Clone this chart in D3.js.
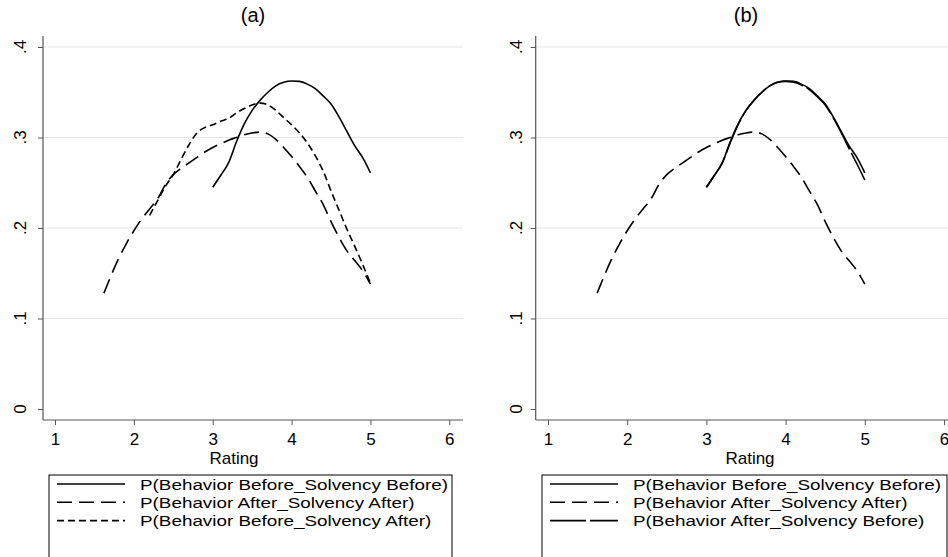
<!DOCTYPE html>
<html><head><meta charset="utf-8">
<script src="https://cdn.jsdelivr.net/npm/d3@7"></script>
<style>body{margin:0;background:#fff;overflow:hidden} text{font-family:"Liberation Sans",Arial,sans-serif;fill:#000}</style>
</head><body><svg id="c" width="948" height="557"></svg>
<script>
const xTicks=[1,2,3,4,5,6];
const yTicks=[0,0.1,0.2,0.3,0.4];
const yTickLabels=["0",".1",".2",".3",".4"];
const panelTitles=["(a)","(b)"];
const xAxisTitle="Rating";

// P(Behavior Before_Solvency Before)
const ratingBB=[3.0,3.1,3.2,3.3,3.4,3.5,3.6,3.7,3.8,3.9,4.0,4.1,4.2,4.3,4.4,4.5,4.6,4.7,4.8,4.9,5.0];
const pBB=[0.245,0.258,0.272,0.295,0.315,0.330,0.341,0.350,0.357,0.361,0.3625,0.362,0.359,0.354,0.346,0.337,0.323,0.307,0.291,0.278,0.261];
// P(Behavior After_Solvency After)
const ratingAA=[1.62,1.7,1.8,1.9,2.0,2.1,2.2,2.3,2.4,2.5,2.6,2.7,2.8,2.9,3.0,3.1,3.2,3.3,3.4,3.5,3.6,3.7,3.8,3.9,4.0,4.1,4.2,4.3,4.4,4.5,4.6,4.7,4.8,4.9,5.0];
const pAA=[0.128,0.145,0.165,0.182,0.197,0.210,0.221,0.232,0.248,0.259,0.266,0.272,0.278,0.284,0.289,0.293,0.297,0.300,0.303,0.305,0.306,0.304,0.298,0.289,0.279,0.268,0.256,0.241,0.226,0.207,0.190,0.175,0.164,0.153,0.138];
// P(Behavior Before_Solvency After)
const ratingBA=[2.2,2.3,2.4,2.5,2.6,2.7,2.8,2.9,3.0,3.1,3.2,3.3,3.4,3.5,3.6,3.7,3.8,3.9,4.0,4.1,4.2,4.3,4.4,4.5,4.6,4.7,4.8,4.9,5.0];
const pBA=[0.214,0.230,0.246,0.259,0.276,0.292,0.305,0.311,0.314,0.318,0.321,0.327,0.332,0.336,0.338,0.336,0.330,0.322,0.314,0.305,0.294,0.280,0.263,0.241,0.220,0.199,0.180,0.160,0.139];
// P(Behavior After_Solvency Before)
const ratingAB=[3.0,3.1,3.2,3.3,3.4,3.5,3.6,3.7,3.8,3.9,4.0,4.1,4.2,4.3,4.4,4.5,4.6,4.7,4.8,4.9,5.0];
const pAB=[0.245,0.258,0.272,0.294,0.314,0.330,0.341,0.350,0.357,0.361,0.362,0.361,0.358,0.353,0.345,0.336,0.322,0.306,0.288,0.271,0.253];

const legendA=["P(Behavior Before_Solvency Before)","P(Behavior After_Solvency After)","P(Behavior Before_Solvency After)"];
const legendB=["P(Behavior Before_Solvency Before)","P(Behavior After_Solvency After)","P(Behavior After_Solvency Before)"];

const DASH={solid:null,dash:"15,7",shortdash:"7,4",longdash:"36,4"};

const panels=[
 {axisL:43,axisR:463,x0:55,x1:449.3,titleX:253,ratingX:234,ylabX:20,legX:49,legW:403,
  series:[{x:ratingBB,y:pBB,d:"solid"},{x:ratingAA,y:pAA,d:"dash"},{x:ratingBA,y:pBA,d:"shortdash"}],
  legend:legendA,legD:["solid","dash","shortdash"],title:panelTitles[0]},
 {axisL:535.7,axisR:950,x0:548,x1:944,titleX:746,ratingX:750,ylabX:516,legX:542,legW:405,
  series:[{x:ratingBB,y:pBB,d:"solid"},{x:ratingAA,y:pAA,d:"dash"},{x:ratingAB,y:pAB,d:"longdash"}],
  legend:legendB,legD:["solid","dash","longdash"],title:panelTitles[1]}
];

const svg=d3.select("#c");
const yS=d3.scaleLinear().domain([0,0.4]).range([409,47]);
const axisY=420, axisTop=36;
const FS=17;
let stretch=null;

panels.forEach(p=>{
  const g=svg.append("g");
  const xS=d3.scaleLinear().domain([1,6]).range([p.x0,p.x1]);
  g.selectAll("line.grid").data(yTicks.slice(1)).enter().append("line")
   .attr("x1",p.axisL).attr("x2",p.axisR).attr("y1",d=>yS(d)).attr("y2",d=>yS(d))
   .attr("stroke","#e6e6e6").attr("stroke-width",1.2);
  const ya=d3.axisLeft(yS).tickValues(yTicks).tickSize(5).tickFormat((d,i)=>yTickLabels[i]);
  const yg=g.append("g").attr("transform",`translate(${p.axisL},0)`).call(ya);
  yg.select(".domain").remove();
  yg.selectAll(".tick line").attr("stroke","#555");
  yg.selectAll(".tick text").remove();
  g.append("line").attr("x1",p.axisL).attr("x2",p.axisL).attr("y1",axisTop).attr("y2",axisY).attr("stroke","#555").attr("stroke-width",1.2);
  g.selectAll("text.ylab").data(yTicks).enter().append("text")
   .attr("transform",d=>`translate(${p.ylabX},${yS(d)}) rotate(-90)`)
   .attr("text-anchor","middle").attr("dy","0.35em").style("font-size",FS+"px")
   .text((d,i)=>yTickLabels[i]);
  const xa=d3.axisBottom(xS).tickValues(xTicks).tickSize(5).tickFormat(d3.format("d"));
  const xg=g.append("g").attr("transform",`translate(0,${axisY})`).call(xa);
  xg.select(".domain").remove();
  xg.selectAll(".tick line").attr("stroke","#555");
  xg.selectAll(".tick text").attr("y",13).style("font-size",FS+"px").style("font-family",'"Liberation Sans",Arial,sans-serif').attr("fill","#000");
  g.append("line").attr("x1",p.axisL).attr("x2",p.axisR).attr("y1",axisY).attr("y2",axisY).attr("stroke","#555").attr("stroke-width",1.2);
  g.append("text").attr("x",p.titleX).attr("y",22).attr("text-anchor","middle").style("font-size","20px").text(p.title);
  g.append("text").attr("x",p.ratingX).attr("y",464).attr("text-anchor","middle").style("font-size",FS+"px").text(xAxisTitle);
  const line=d3.line().x(d=>xS(d[0])).y(d=>yS(d[1])).curve(d3.curveMonotoneX);
  p.series.forEach(s=>{
    const pts=s.x.map((v,i)=>[v,s.y[i]]);
    g.append("path").attr("d",line(pts)).attr("fill","none").attr("stroke","#000")
     .attr("stroke-width",1.6).attr("stroke-dasharray",DASH[s.d]);
  });
  g.append("rect").attr("x",p.legX).attr("y",475).attr("width",p.legW).attr("height",100)
   .attr("fill","#fff").attr("stroke","#000").attr("stroke-width",1);
  p.legend.forEach((t,i)=>{
    const yy=484+i*18.3;
    g.append("line").attr("x1",p.legX+8).attr("x2",p.legX+76).attr("y1",yy).attr("y2",yy)
     .attr("stroke","#000").attr("stroke-width",1.6).attr("stroke-dasharray",DASH[p.legD[i]]);
    const tx=g.append("text").attr("x",p.legX+91).attr("y",yy).attr("dy","0.36em").style("font-size","15.5px").text(t);
    const w=tx.node().getComputedTextLength();
    if(stretch===null) stretch=308/w;
    tx.attr("textLength",w*stretch).attr("lengthAdjust","spacingAndGlyphs");
  });
});
</script></body></html>
